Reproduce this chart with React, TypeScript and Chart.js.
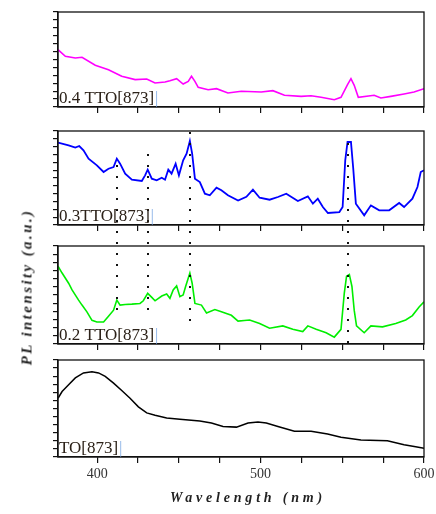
import React, { useEffect, useRef } from 'react';
import { Chart, registerables } from 'chart.js';

Chart.register(...registerables);

// ---------- axis ----------
const X_MIN = 376;
const X_MAX = 600;
const xTickValues = [400, 425, 450, 475, 500, 525, 550, 575, 600];
const xTickLabels = ['400', '', '', '', '500', '', '', '', '600'];
const yTickCount = 13;

// ---------- 0.4 TTO[873] ----------
const wl04 = [376, 380.5, 386.6, 390.7, 398.8, 406.9, 415, 423.2, 430.3, 435.4, 441.5, 444.5, 448.6, 452.6, 455.7, 457.7, 459.8, 461.8, 467.9, 473, 480, 488.2, 500.4, 507.5, 514.6, 524.8, 530.9, 537, 545.1, 549.2, 553.2, 555.3, 557.3, 559.8, 569.5, 573.6, 579.7, 587.8, 593.9, 600];
const pl04 = [60.3, 53.4, 51.6, 52.3, 43.9, 39.3, 32.3, 28.8, 29.5, 25.3, 26.3, 27.7, 29.8, 24.2, 27, 32.3, 27, 20.7, 18.2, 19.3, 14.7, 16.5, 15.8, 17.2, 12.3, 11.2, 11.9, 10.2, 7.7, 10.2, 23.5, 29.8, 22.8, 10.2, 12.3, 9.5, 11.2, 13.7, 15.8, 19.3];

// ---------- 0.3TTO[873] ----------
const wl03 = [376, 382.5, 386.6, 389, 391.6, 394.7, 399.8, 403.9, 406.9, 410, 412, 414, 417.1, 421.2, 427.3, 429.3, 430.9, 433.4, 436.4, 439.5, 441.5, 443.5, 445.5, 448, 450, 452.6, 454.7, 456.7, 458.1, 459.8, 462.8, 465.9, 468.9, 473, 476, 480, 486.2, 491.3, 495.3, 499.4, 505.5, 510.6, 515.7, 522.8, 528.9, 532, 535, 538.1, 541.2, 548.2, 550.2, 551.8, 553.2, 555.3, 556.7, 558.3, 563.4, 567.5, 572.6, 578.7, 584.8, 587.8, 592.9, 596, 598, 600];
const pl03 = [87.6, 84.8, 82.3, 84, 79.4, 70.6, 63.5, 56.4, 59.9, 61.7, 70.6, 65.2, 54.6, 48.2, 46.8, 52.8, 58.9, 49.3, 47.5, 50.3, 48.2, 58.9, 54.6, 65.2, 52.8, 68.8, 75.9, 89.4, 75.9, 49.3, 45.7, 33.3, 31.6, 39.7, 36.9, 31.6, 26, 30, 37.6, 29, 26.9, 29.8, 33.3, 25.5, 30.5, 22.7, 28, 19.1, 12.8, 13.8, 19.1, 68.8, 88.3, 88.3, 59.9, 22.7, 10.3, 20.9, 15.6, 15.6, 23.4, 19.1, 28, 40.4, 56.4, 58.2];

// ---------- 0.2 TTO[873] ----------
const wl02 = [376, 378.5, 382.5, 384.6, 388.6, 390.7, 393.7, 396.8, 399.8, 403.9, 406.9, 410, 412, 414, 417.1, 421.2, 426.2, 428.2, 430.9, 433.4, 435.4, 439.5, 442.5, 444.5, 446.5, 448.6, 450.6, 452.6, 454.1, 455.7, 456.7, 458.1, 459.8, 463.8, 466.9, 472, 476, 482.1, 486.2, 490, 493.3, 499.4, 505.5, 513.6, 519.7, 525.8, 528.9, 534, 540.1, 545.1, 549.2, 551.2, 552.6, 554.3, 555.9, 557.3, 558.7, 563.4, 567.5, 574.6, 582.7, 588.8, 592.9, 597, 600];
const pl02 = [79.3, 72.4, 62, 55.2, 44.8, 39.7, 32.8, 24.1, 22.4, 22.4, 28.3, 34.5, 44.8, 39.7, 40.3, 40.7, 41.4, 44.1, 51.7, 47.6, 44.1, 49, 51, 46.6, 55.2, 59.3, 48.3, 50, 58.6, 67.2, 72.4, 62, 41.4, 39.7, 31.7, 35.2, 32.8, 29.3, 23.4, 24, 24.5, 21, 16.1, 18.5, 15, 12.6, 18.5, 15, 11.5, 7, 15, 51.7, 69.2, 71, 58.7, 34.3, 18.5, 11.5, 18.5, 17.5, 21, 24.5, 29, 37.8, 43];

// ---------- TTO[873] ----------
const wl00 = [376, 378.5, 382.5, 386.6, 391.6, 396.8, 400.8, 404.9, 410, 415, 420.1, 425.2, 430.3, 435.4, 442.5, 450.6, 462.8, 469.9, 477, 485.2, 492.3, 498.4, 503.5, 510.6, 520.7, 530.9, 541, 549.2, 561.4, 577.6, 587.8, 594.9, 600];
const pl00 = [60.5, 67.5, 74.5, 81.5, 86.7, 87.8, 86.7, 83.2, 76.2, 68.5, 60.5, 51.7, 45.5, 43, 40.2, 38.8, 37.1, 35, 31.5, 30.8, 35, 36, 35, 31.5, 26.6, 26.6, 23.8, 20.3, 17.5, 16.8, 12.6, 10.5, 9.1];

// ---------- dotted guide lines (0.3 -> 0.2 panels) ----------
const markerWl = [412, 431, 456.7, 553.7];
const markerStartPl03 = [70, 83, 100, 97];
const markerEndPl02 = [35, 25, 19, 0];

type Spec = {
  wl: number[];
  pl: number[];
  color: string;
  width: number;
  label: string;
  top: number;
  height: number;
  padTop: number;
  xAxisH: number;
  showXLabels: boolean;
  markers: 'none' | 'start' | 'end';
};

const specs: Spec[] = [
  { wl: wl04, pl: pl04, color: '#ff00ff', width: 1.6, label: '0.4 TTO[873]', top: 0, height: 120, padTop: 12, xAxisH: 13, showXLabels: false, markers: 'none' },
  { wl: wl03, pl: pl03, color: '#0000ff', width: 1.8, label: '0.3TTO[873]', top: 120, height: 116, padTop: 11, xAxisH: 11, showXLabels: false, markers: 'start' },
  { wl: wl02, pl: pl02, color: '#00ee00', width: 1.6, label: '0.2 TTO[873]', top: 236, height: 116, padTop: 10, xAxisH: 8, showXLabels: false, markers: 'end' },
  { wl: wl00, pl: pl00, color: '#000000', width: 1.5, label: 'TO[873]', top: 352, height: 162, padTop: 8, xAxisH: 57, showXLabels: true, markers: 'none' },
];

const DOT_GAP = 11;
const DOT_ORIGIN = 133;

function Panel({ spec }: { spec: Spec }) {
  const ref = useRef<HTMLCanvasElement>(null);
  useEffect(() => {
    const canvas = ref.current;
    if (!canvas) return;
    const data = spec.wl.map((w, i) => ({ x: w, y: spec.pl[i] }));

    const framePlugin = {
      id: 'frameAndLabel',
      afterDatasetsDraw(chart: any) {
        const { ctx, scales } = chart;
        if (spec.markers !== 'none') {
          ctx.save();
          ctx.fillStyle = '#111';
          markerWl.forEach((w, i) => {
            const x = scales.x.getPixelForValue(w);
            let y0: number;
            let y1: number;
            if (spec.markers === 'start') {
              y0 = scales.y.getPixelForValue(markerStartPl03[i]);
              y1 = spec.height;
            } else {
              y0 = 0;
              y1 = scales.y.getPixelForValue(markerEndPl02[i]);
            }
            const absStart = spec.top + y0;
            let k = Math.ceil((absStart - DOT_ORIGIN) / DOT_GAP);
            for (;;) {
              const absY = DOT_ORIGIN + k * DOT_GAP;
              const y = absY - spec.top;
              if (y > y1) break;
              ctx.fillRect(Math.round(x) - 1, y - 1, 2, 2);
              k++;
            }
          });
          ctx.restore();
        }
      },
      afterDraw(chart: any) {
        const { ctx, chartArea } = chart;
        ctx.save();
        ctx.strokeStyle = '#111';
        ctx.lineWidth = 1.3;
        ctx.strokeRect(chartArea.left, chartArea.top, chartArea.right - chartArea.left, chartArea.bottom - chartArea.top);
        ctx.font = '17px "Liberation Serif", "Times New Roman", serif';
        ctx.fillStyle = '#2b2118';
        ctx.textBaseline = 'alphabetic';
        ctx.textAlign = 'left';
        const tx = chartArea.left + 1;
        const ty = chartArea.bottom - 4;
        ctx.fillText(spec.label, tx, ty);
        const w = ctx.measureText(spec.label).width;
        ctx.strokeStyle = 'rgba(110,160,225,0.7)';
        ctx.lineWidth = 1;
        ctx.beginPath();
        ctx.moveTo(tx + w + 2.5, chartArea.bottom - 16);
        ctx.lineTo(tx + w + 2.5, chartArea.bottom);
        ctx.stroke();
        ctx.restore();
      },
    };

    const chart = new Chart(canvas, {
      type: 'line',
      data: {
        datasets: [
          {
            data,
            borderColor: spec.color,
            borderWidth: spec.width,
            pointRadius: 0,
            tension: 0,
            fill: false,
          },
        ],
      },
      options: {
        responsive: false,
        devicePixelRatio: 1,
        animation: false,
        layout: { padding: { left: 53, right: 12, top: spec.padTop, bottom: 0 } },
        plugins: { legend: { display: false }, tooltip: { enabled: false }, title: { display: false } },
        scales: {
          x: {
            type: 'linear',
            min: X_MIN,
            max: X_MAX,
            afterBuildTicks: (s: any) => {
              s.ticks = xTickValues.map((v) => ({ value: v }));
            },
            afterFit: (s: any) => {
              s.height = spec.xAxisH;
              s.paddingLeft = 0;
              s.paddingRight = 0;
            },
            ticks: {
              display: spec.showXLabels,
              autoSkip: false,
              maxRotation: 0,
              minRotation: 0,
              padding: 3,
              color: '#333',
              font: { family: '"Liberation Serif", serif', size: 14 },
              callback: (_v: any, i: number) => xTickLabels[i] ?? '',
            },
            grid: { drawOnChartArea: false, drawTicks: true, tickLength: 6, color: '#111', lineWidth: 1.2 },
            border: { display: true, color: '#111', width: 1.3 },
          },
          y: {
            type: 'linear',
            min: 0,
            max: 100,
            afterBuildTicks: (s: any) => {
              s.ticks = Array.from({ length: yTickCount }, (_, i) => ({ value: (i * 100) / (yTickCount - 1) }));
            },
            afterFit: (s: any) => {
              s.width = 5;
            },
            ticks: { display: false },
            grid: { drawOnChartArea: false, drawTicks: true, tickLength: 5, color: '#111', lineWidth: 1.2 },
            border: { display: true, color: '#111', width: 1.3 },
          },
        },
      },
      plugins: [framePlugin],
    } as any);
    return () => chart.destroy();
  }, [spec]);

  return (
    <canvas
      ref={ref}
      width={436}
      height={spec.height}
      style={{ position: 'absolute', left: 0, top: spec.top, width: 436, height: spec.height, display: 'block' }}
    />
  );
}

export default function App() {
  return (
    <div style={{ position: 'absolute', left: 0, top: 0, width: 436, height: 514, background: '#fff', overflow: 'hidden' }}>
      {specs.map((s, i) => (
        <Panel key={i} spec={s} />
      ))}
      <div
        style={{
          position: 'absolute',
          left: 27,
          top: 287,
          transform: 'translate(-50%, -50%) rotate(-90deg)',
          whiteSpace: 'nowrap',
          fontFamily: '"Liberation Serif", serif',
          fontWeight: 'bold',
          fontStyle: 'italic',
          fontSize: 15,
          letterSpacing: '2.4px',
          color: '#222',
          lineHeight: 1,
        }}
      >
        PL intensity (a.u.)
      </div>
      <div
        style={{
          position: 'absolute',
          left: 248,
          top: 498,
          transform: 'translate(-50%, -50%)',
          whiteSpace: 'nowrap',
          fontFamily: '"Liberation Serif", serif',
          fontWeight: 'bold',
          fontStyle: 'italic',
          fontSize: 14,
          letterSpacing: '3.8px',
          color: '#222',
          lineHeight: 1,
        }}
      >
        Wavelength (nm)
      </div>
    </div>
  );
}
